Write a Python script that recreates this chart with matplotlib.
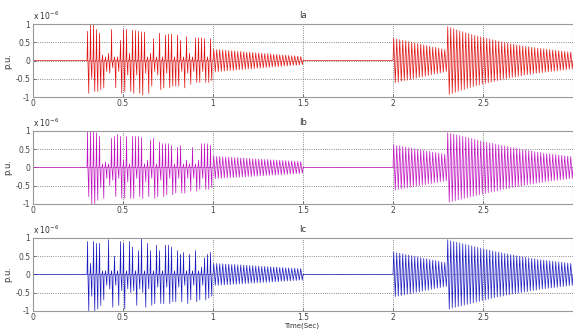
import matplotlib
matplotlib.use("Agg")
import matplotlib.pyplot as plt

# values in p.u. x 1e-6, one entry per 60 Hz cycle
# spike burst, 0.3 s .. 1.0 s
burst_start = 0.3
ia_burst_pos = [0.8, 1.0, 1.0, 0.85, 0.75, 0.15, 0.1, 0.2, 0.85, 0.1, 0.1, 0.55, 0.85, 0.85,
                0.2, 0.83, 0.82, 0.8, 0.78, 0.78, 0.1, 0.2, 0.6, 0.1, 0.75, 0.1, 0.7, 0.72,
                0.72, 0.1, 0.7, 0.55, 0.1, 0.65, 0.2, 0.1, 0.62, 0.62, 0.62, 0.6, 0.1, 0.6]
ia_burst_neg = [-0.9, -0.5, -0.85, -0.85, -0.8, -0.75, -0.3, -0.35, -0.2, -0.75, -0.3, -0.9, -0.85, -0.4,
                -0.85, -0.9, -0.4, -0.9, -0.95, -0.35, -0.9, -0.7, -0.3, -0.4, -0.8, -0.75, -0.35, -0.75,
                -0.7, -0.7, -0.7, -0.3, -0.75, -0.35, -0.65, -0.3, -0.6, -0.6, -0.3, -0.6, -0.6, -0.55]
ib_burst_pos = [1.0, 1.0, 1.0, 0.95, 0.85, 0.1, 0.15, 0.1, 0.8, 0.85, 0.9, 0.85, 0.2, 0.85,
                0.1, 0.85, 0.85, 0.85, 0.82, 0.1, 0.2, 0.75, 0.8, 0.1, 0.7, 0.65, 0.65, 0.65,
                0.6, 0.1, 0.55, 0.6, 0.1, 0.2, 0.1, 0.55, 0.1, 0.2, 0.65, 0.65, 0.65, 0.6]
ib_burst_neg = [-0.8, -1.0, -1.0, -0.9, -0.55, -0.85, -0.3, -0.5, -0.35, -0.8, -0.3, -0.85, -0.85, -0.4,
                -0.85, -0.85, -0.3, -0.8, -0.85, -0.4, -0.8, -0.3, -0.85, -0.8, -0.35, -0.8, -0.75, -0.3,
                -0.75, -0.7, -0.3, -0.7, -0.7, -0.3, -0.65, -0.3, -0.65, -0.6, -0.3, -0.6, -0.6, -0.55]
ic_burst_pos = [0.9, 0.3, 0.9, 0.85, 0.85, 0.1, 0.1, 0.95, 0.1, 0.5, 0.1, 0.9, 0.85, 0.1,
                0.9, 0.75, 0.1, 0.65, 1.0, 0.1, 0.85, 0.65, 0.1, 0.8, 0.65, 0.1, 0.8, 0.8,
                0.75, 0.1, 0.65, 0.55, 0.6, 0.1, 0.55, 0.1, 0.65, 0.1, 0.2, 0.45, 0.55, 0.6]
ic_burst_neg = [-1.0, -0.6, -1.0, -0.95, -0.85, -0.7, -0.3, -0.4, -0.9, -0.3, -0.85, -0.45, -0.95, -0.4,
                -0.5, -0.45, -0.85, -0.4, -0.5, -0.9, -0.4, -0.85, -0.8, -0.35, -0.8, -0.8, -0.35, -0.8,
                -0.75, -0.75, -0.35, -0.75, -0.3, -0.8, -0.7, -0.3, -0.75, -0.7, -0.3, -0.7, -0.65, -0.6]

# decaying oscillation, 1.0 s .. 1.5 s (peak amplitude per cycle)
ring1_start = 1.0
ia_ring1 = [0.31, 0.30, 0.30, 0.29, 0.28, 0.27, 0.27, 0.26, 0.25, 0.25, 0.24, 0.23, 0.23, 0.22, 0.21,
            0.21, 0.20, 0.19, 0.19, 0.18, 0.17, 0.17, 0.16, 0.15, 0.15, 0.14, 0.13, 0.13, 0.12, 0.11]
ib_ring1 = [0.31, 0.30, 0.30, 0.29, 0.29, 0.28, 0.28, 0.27, 0.27, 0.26, 0.26, 0.25, 0.25, 0.24, 0.24,
            0.23, 0.23, 0.22, 0.22, 0.21, 0.21, 0.20, 0.20, 0.19, 0.19, 0.18, 0.18, 0.17, 0.17, 0.16]
ic_ring1 = [0.30, 0.30, 0.29, 0.29, 0.28, 0.28, 0.27, 0.27, 0.26, 0.26, 0.25, 0.25, 0.24, 0.24, 0.23,
            0.23, 0.22, 0.22, 0.21, 0.21, 0.20, 0.20, 0.19, 0.19, 0.18, 0.18, 0.17, 0.17, 0.16, 0.16]

# decaying oscillation, 2.0 s .. 2.3 s
ring2_start = 2.0
ia_ring2 = [0.61, 0.59, 0.57, 0.55, 0.54, 0.52, 0.50, 0.48, 0.46, 0.45, 0.43, 0.41, 0.39, 0.37, 0.36,
            0.34, 0.32, 0.30]
ib_ring2 = [0.62, 0.60, 0.59, 0.57, 0.56, 0.54, 0.53, 0.51, 0.50, 0.48, 0.47, 0.45, 0.44, 0.42, 0.41,
            0.39, 0.38, 0.36]
ic_ring2 = [0.61, 0.59, 0.58, 0.56, 0.54, 0.53, 0.51, 0.49, 0.48, 0.46, 0.44, 0.43, 0.41, 0.39, 0.38,
            0.36, 0.34, 0.33]

# decaying oscillation, 2.3 s .. 3.0 s
ring3_start = 2.3
ia_ring3 = [0.93, 0.90, 0.87, 0.84, 0.81, 0.79, 0.76, 0.74, 0.71, 0.69, 0.67, 0.65, 0.63, 0.61,
            0.59, 0.57, 0.55, 0.53, 0.51, 0.50, 0.48, 0.46, 0.45, 0.43, 0.42, 0.40, 0.39, 0.38,
            0.36, 0.35, 0.34, 0.33, 0.32, 0.31, 0.30, 0.29, 0.28, 0.27, 0.26, 0.25, 0.24, 0.23]
ib_ring3 = [0.95, 0.93, 0.91, 0.89, 0.87, 0.85, 0.83, 0.81, 0.79, 0.77, 0.75, 0.73, 0.71, 0.69,
            0.67, 0.66, 0.64, 0.62, 0.60, 0.59, 0.57, 0.55, 0.54, 0.52, 0.51, 0.49, 0.48, 0.46,
            0.45, 0.43, 0.42, 0.41, 0.39, 0.38, 0.37, 0.36, 0.35, 0.34, 0.33, 0.32, 0.31, 0.30]
ic_ring3 = [0.95, 0.92, 0.90, 0.88, 0.86, 0.84, 0.82, 0.80, 0.78, 0.76, 0.74, 0.72, 0.70, 0.68,
            0.66, 0.64, 0.62, 0.61, 0.59, 0.57, 0.56, 0.54, 0.53, 0.51, 0.50, 0.48, 0.47, 0.45,
            0.44, 0.43, 0.41, 0.40, 0.39, 0.38, 0.37, 0.36, 0.35, 0.34, 0.33, 0.32, 0.31, 0.30]

phase_names = ["Ia", "Ib", "Ic"]
phase_colors = ["#e01010", "#c010c0", "#1818c0"]
x_ticks = [0, 0.5, 1, 1.5, 2, 2.5]
x_tick_labels = ["0", "0.5", "1", "1.5", "2", "2.5"]
y_ticks = [-1, -0.5, 0, 0.5, 1]
y_tick_labels = ["-1", "-0.5", "0", "0.5", "1"]

FREQ = 60.0


def add_spikes(ts, ys, start, pos, neg):
    # sharp spikes that fall back to zero inside each cycle
    period = 1.0 / FREQ
    for k, (p, n) in enumerate(zip(pos, neg)):
        t0 = start + k * period
        ts.extend([t0, t0 + 0.2 * period, t0 + 0.3 * period,
                   t0 + 0.6 * period, t0 + 0.7 * period])
        ys.extend([0.0, p, 0.0, n, 0.0])
    ts.append(start + len(pos) * period)
    ys.append(0.0)


def add_ring(ts, ys, start, amps):
    period = 1.0 / FREQ
    ts.append(start)
    ys.append(0.0)
    for k, a in enumerate(amps):
        t0 = start + k * period
        ts.extend([t0 + period / 4, t0 + 3 * period / 4])
        ys.extend([a, -a])
    ts.append(start + len(amps) * period)
    ys.append(0.0)


def build_trace(burst_pos, burst_neg, ring1, ring2, ring3):
    ts, ys = [0.0], [0.0]
    add_spikes(ts, ys, burst_start, burst_pos, burst_neg)
    add_ring(ts, ys, ring1_start, ring1)
    add_ring(ts, ys, ring2_start, ring2)
    add_ring(ts, ys, ring3_start, ring3)
    ts.append(3.0)
    ys.append(0.0)
    return ts, ys


traces = [
    build_trace(ia_burst_pos, ia_burst_neg, ia_ring1, ia_ring2, ia_ring3),
    build_trace(ib_burst_pos, ib_burst_neg, ib_ring1, ib_ring2, ib_ring3),
    build_trace(ic_burst_pos, ic_burst_neg, ic_ring1, ic_ring2, ic_ring3),
]

fig = plt.figure(figsize=(5.73, 3.29), dpi=100)
tops = [0.927, 0.602, 0.277]
height = 0.222

for i, (name, color, (ts, ys)) in enumerate(zip(phase_names, phase_colors, traces)):
    ax = fig.add_axes([0.0576, tops[i] - height, 1.0 - 0.0576, height])
    ax.plot(ts, ys, color=color, lw=0.5)
    ax.set_xlim(0, 3)
    ax.set_ylim(-1, 1)
    ax.set_xticks(x_ticks)
    ax.set_xticklabels(x_tick_labels)
    ax.set_yticks(y_ticks)
    ax.set_yticklabels(y_tick_labels)
    ax.tick_params(direction="in", labelsize=5.5, length=2, width=0.5, colors="#444444", pad=2)
    ax.tick_params(axis="x", pad=1.5)
    ax.grid(True, linestyle=":", color="#666666", lw=0.6)
    for s in ax.spines.values():
        s.set_color("#999999")
        s.set_linewidth(0.8)
    ax.set_title(name, fontsize=6, color="#333333", pad=4)
    ax.set_ylabel("p.u.", fontsize=6, color="#333333", labelpad=2)
    ax.text(0.0, 1.03, r"x 10$^{-6}$", transform=ax.transAxes, fontsize=5.5, color="#333333",
            ha="left", va="bottom")

fig.text(0.527, 0.0, "Time(Sec)", fontsize=5, color="#333333", ha="center", va="bottom")

fig.savefig("out.png", dpi=100)
